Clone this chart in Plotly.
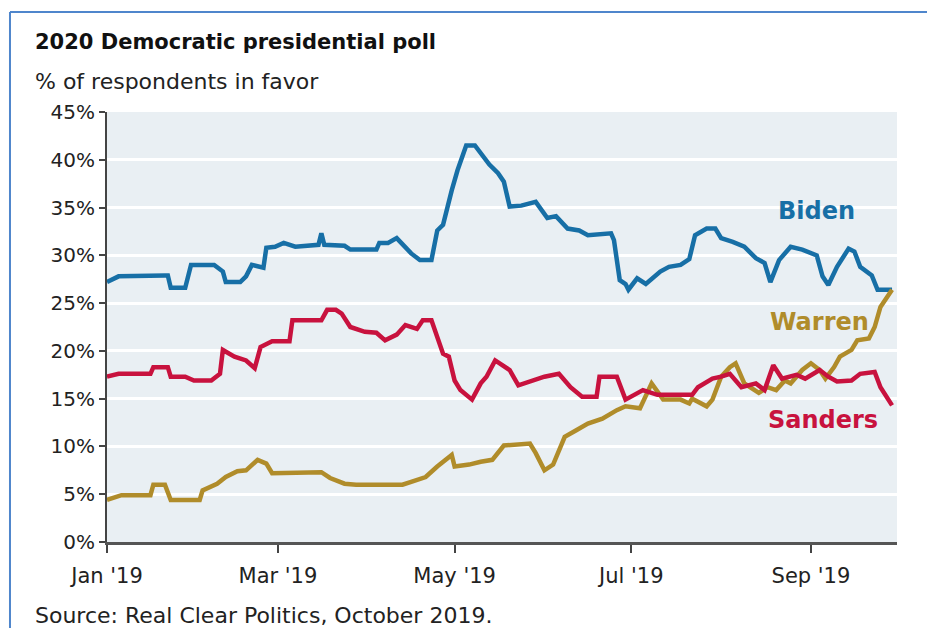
import plotly.graph_objects as go

# ---- data ----
biden_dates = ["2019-01-01","2019-01-05","2019-01-21","2019-01-22","2019-01-23","2019-01-28","2019-01-30",
               "2019-02-07","2019-02-10","2019-02-11","2019-02-16","2019-02-18","2019-02-20","2019-02-24",
               "2019-02-25","2019-02-28","2019-03-03","2019-03-07","2019-03-15","2019-03-16","2019-03-17",
               "2019-03-24","2019-03-26","2019-04-04","2019-04-05","2019-04-08","2019-04-11","2019-04-13",
               "2019-04-16","2019-04-19","2019-04-23","2019-04-25","2019-04-27","2019-04-30","2019-05-02",
               "2019-05-05","2019-05-08","2019-05-13","2019-05-16","2019-05-18","2019-05-20","2019-05-24",
               "2019-05-29","2019-06-02","2019-06-05","2019-06-09","2019-06-13","2019-06-16","2019-06-24",
               "2019-06-25","2019-06-27","2019-06-29","2019-06-30","2019-07-03","2019-07-06","2019-07-11",
               "2019-07-14","2019-07-18","2019-07-21","2019-07-23","2019-07-27","2019-07-30","2019-08-01",
               "2019-08-05","2019-08-09","2019-08-13","2019-08-16","2019-08-18","2019-08-21","2019-08-25",
               "2019-08-29","2019-09-03","2019-09-05","2019-09-07","2019-09-10","2019-09-14","2019-09-16",
               "2019-09-18","2019-09-22","2019-09-24","2019-09-29"]
biden_vals = [27.2,27.8,27.9,27.9,26.6,26.6,29.0,
              29.0,28.3,27.2,27.2,27.8,29.0,28.7,
              30.8,30.9,31.3,30.9,31.1,32.3,31.1,
              31.0,30.6,30.6,31.3,31.3,31.8,31.1,
              30.2,29.5,29.5,32.6,33.2,36.8,38.9,
              41.5,41.5,39.5,38.6,37.7,35.1,35.2,
              35.6,33.9,34.1,32.8,32.6,32.1,32.3,
              31.6,27.4,27.0,26.4,27.6,27.0,28.3,
              28.8,29.0,29.6,32.1,32.8,32.8,31.8,
              31.4,30.9,29.7,29.2,27.2,29.5,30.9,
              30.6,30.0,27.8,26.9,28.8,30.7,30.4,
              28.8,27.9,26.4,26.4]

sanders_dates = ["2019-01-01","2019-01-05","2019-01-16","2019-01-17","2019-01-22","2019-01-23","2019-01-28",
                 "2019-01-31","2019-02-06","2019-02-09","2019-02-10","2019-02-14","2019-02-18","2019-02-21",
                 "2019-02-23","2019-02-27","2019-03-05","2019-03-06","2019-03-16","2019-03-18","2019-03-21",
                 "2019-03-23","2019-03-26","2019-03-31","2019-04-04","2019-04-07","2019-04-11","2019-04-14",
                 "2019-04-18","2019-04-20","2019-04-23","2019-04-27","2019-04-29","2019-05-01","2019-05-03",
                 "2019-05-07","2019-05-10","2019-05-12","2019-05-15","2019-05-20","2019-05-23","2019-05-28",
                 "2019-06-01","2019-06-06","2019-06-10","2019-06-14","2019-06-19","2019-06-20","2019-06-26",
                 "2019-06-29","2019-07-01","2019-07-05","2019-07-10","2019-07-22","2019-07-24","2019-07-29",
                 "2019-08-01","2019-08-04","2019-08-08","2019-08-13","2019-08-16","2019-08-19","2019-08-22",
                 "2019-08-27","2019-08-30","2019-09-04","2019-09-07","2019-09-10","2019-09-15","2019-09-18",
                 "2019-09-23","2019-09-25","2019-09-29"]
sanders_vals = [17.3,17.6,17.6,18.3,18.3,17.3,17.3,
                16.9,16.9,17.6,20.1,19.4,19.0,18.2,
                20.4,21.0,21.0,23.2,23.2,24.3,24.3,
                23.9,22.5,22.0,21.9,21.1,21.7,22.7,
                22.3,23.2,23.2,19.7,19.4,16.9,15.9,
                14.9,16.6,17.3,19.0,18.0,16.4,16.9,
                17.3,17.6,16.2,15.2,15.2,17.3,17.3,
                14.9,15.2,15.9,15.4,15.4,16.2,17.1,
                17.3,17.6,16.2,16.6,15.9,18.5,17.1,
                17.5,17.1,18.0,17.3,16.8,16.9,17.6,
                17.8,16.2,14.3]

warren_dates = ["2019-01-01","2019-01-06","2019-01-16","2019-01-17","2019-01-21","2019-01-23","2019-02-02",
                "2019-02-03","2019-02-08","2019-02-11","2019-02-15","2019-02-18","2019-02-22","2019-02-25",
                "2019-02-27","2019-03-16","2019-03-19","2019-03-24","2019-03-28","2019-04-13","2019-04-16",
                "2019-04-21","2019-04-25","2019-04-30","2019-05-01","2019-05-06","2019-05-10","2019-05-14",
                "2019-05-18","2019-05-24","2019-05-27","2019-05-29","2019-06-01","2019-06-04","2019-06-08",
                "2019-06-12","2019-06-16","2019-06-21","2019-06-26","2019-06-29","2019-07-04","2019-07-08",
                "2019-07-12","2019-07-18","2019-07-21","2019-07-22","2019-07-27","2019-07-29","2019-08-01",
                "2019-08-04","2019-08-06","2019-08-09","2019-08-14","2019-08-17","2019-08-20","2019-08-23",
                "2019-08-25","2019-08-29","2019-09-01","2019-09-04","2019-09-06","2019-09-09","2019-09-11",
                "2019-09-15","2019-09-17","2019-09-21","2019-09-23","2019-09-25","2019-09-28","2019-09-29"]
warren_vals = [4.4,4.9,4.9,6.0,6.0,4.4,4.4,
               5.4,6.1,6.8,7.4,7.5,8.6,8.2,
               7.2,7.3,6.7,6.1,6.0,6.0,6.3,
               6.8,7.9,9.1,7.9,8.1,8.4,8.6,
               10.1,10.3,10.3,9.3,7.5,8.1,11.0,
               11.7,12.4,12.9,13.8,14.2,14.0,16.6,
               14.9,14.9,14.5,15.0,14.2,14.9,17.3,
               18.3,18.7,16.6,15.6,16.2,15.9,16.9,
               16.6,18.0,18.7,18.0,17.1,18.3,19.4,
               20.1,21.1,21.3,22.5,24.6,26.0,26.4]

y_ticks = [0, 5, 10, 15, 20, 25, 30, 35, 40, 45]
y_tick_labels = [f"{v}%" for v in y_ticks]

BLUE = "#176FA6"
RED = "#C8123E"
GOLD = "#B08C2A"
FONT = "DejaVu Sans"

fig = go.Figure()
fig.add_trace(go.Scatter(x=biden_dates, y=biden_vals, mode="lines", name="Biden",
                         line=dict(color=BLUE, width=4.5)))
fig.add_trace(go.Scatter(x=warren_dates, y=warren_vals, mode="lines", name="Warren",
                         line=dict(color=GOLD, width=4.5)))
fig.add_trace(go.Scatter(x=sanders_dates, y=sanders_vals, mode="lines", name="Sanders",
                         line=dict(color=RED, width=4.5)))

# series labels
fig.add_annotation(x="2019-09-03", y=34.6, text="<b>Biden</b>", showarrow=False,
                   font=dict(family=FONT, size=24, color=BLUE))
fig.add_annotation(x="2019-09-04", y=23.0, text="<b>Warren</b>", showarrow=False,
                   font=dict(family=FONT, size=24, color=GOLD))
fig.add_annotation(x="2019-09-05", y=12.8, text="<b>Sanders</b>", showarrow=False,
                   font=dict(family=FONT, size=24, color=RED))

# title / subtitle / source
fig.add_annotation(xref="paper", yref="paper", x=-0.094, y=1.163, xanchor="left", yanchor="middle",
                   text="<b>2020 Democratic presidential poll</b>", showarrow=False,
                   font=dict(family=FONT, size=21, color="#111111"))
fig.add_annotation(xref="paper", yref="paper", x=-0.094, y=1.072, xanchor="left", yanchor="middle",
                   text="% of respondents in favor", showarrow=False,
                   font=dict(family=FONT, size=22, color="#222222"))
fig.add_annotation(xref="paper", yref="paper", x=-0.094, y=-0.172, xanchor="left", yanchor="middle",
                   text="Source: Real Clear Politics, October 2019.", showarrow=False,
                   font=dict(family=FONT, size=22, color="#222222"))

# outer blue frame (top + left edge)
fig.add_shape(type="line", xref="paper", yref="paper", x0=-0.1228, x1=1.06, y0=1.2326, y1=1.2326,
              line=dict(color="#4F86CC", width=2))
fig.add_shape(type="line", xref="paper", yref="paper", x0=-0.1228, x1=-0.1228, y0=-0.3, y1=1.2326,
              line=dict(color="#4F86CC", width=2))

# the page body adds an 8px offset; size the figure so the plot area lands at x 107-897, y 112-542
fig.update_layout(
    width=927, height=620,
    margin=dict(l=99, r=38, t=104, b=86, autoexpand=False),
    paper_bgcolor="white",
    plot_bgcolor="#E9EFF3",
    showlegend=False,
    font=dict(family=FONT, size=20, color="#222222"),
)
fig.update_xaxes(
    type="date",
    range=["2019-01-01", "2019-09-30 17:00"],
    tick0="2019-01-01", dtick="M2", tickformat="%b '%y",
    ticks="outside", ticklen=8, tickwidth=2, tickcolor="#444444",
    ticklabelstandoff=5,
    showline=True, linecolor="#555555", linewidth=3,
    showgrid=False, zeroline=False,
    tickfont=dict(family=FONT, size=21, color="#222222"),
)
fig.update_yaxes(
    range=[0, 45], tickmode="array", tickvals=y_ticks, ticktext=y_tick_labels,
    ticks="outside", ticklen=6, tickwidth=2, tickcolor="#444444",
    showline=True, linecolor="#444444", linewidth=2,
    showgrid=True, gridcolor="white", gridwidth=3,
    zeroline=False,
    tickfont=dict(family=FONT, size=20, color="#222222"),
)

fig.write_html("out.html")
